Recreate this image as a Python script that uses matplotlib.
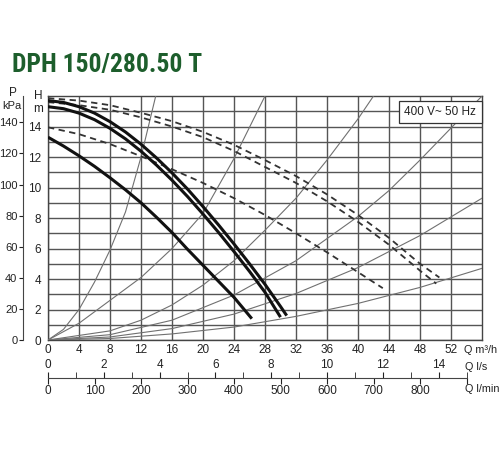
import matplotlib
matplotlib.use("Agg")
import matplotlib.pyplot as plt
from matplotlib import font_manager

plt.rcParams['font.family'] = ['Liberation Sans', 'DejaVu Sans']

title = "DPH 150/280.50 T"
supply = "400 V~ 50 Hz"

# axis ticks
q_ticks = [0, 4, 8, 12, 16, 20, 24, 28, 32, 36, 40, 44, 48, 52]
h_ticks = [0, 2, 4, 6, 8, 10, 12, 14]
p_ticks = [0, 20, 40, 60, 80, 100, 120, 140]
ls_ticks = [0, 2, 4, 6, 8, 10, 12, 14]
ls_minor = list(range(0, 16))
lmin_ticks = [0, 100, 200, 300, 400, 500, 600, 700, 800]

# pump curves, Q in m3/h, H in m
q_a = [0, 2, 4, 6, 8, 10, 12, 14, 16, 18, 20, 22, 24, 26, 28, 30, 30.8]
h_a = [15.7, 15.58, 15.3, 14.88, 14.32, 13.64, 12.84, 11.94, 10.96, 9.9, 8.75,
       7.55, 6.3, 5.0, 3.65, 2.2, 1.6]
q_b = [0, 2, 4, 6, 8, 10, 12, 14, 16, 18, 20, 22, 24, 26, 28, 30.0]
h_b = [15.3, 15.17, 14.88, 14.45, 13.88, 13.19, 12.38, 11.47, 10.48, 9.41, 8.26,
       7.06, 5.8, 4.5, 3.13, 1.5]
q_c = [0, 2, 4, 6, 8, 10, 12, 14, 16, 18, 20, 22, 24, 26.3]
h_c = [13.3, 12.72, 12.08, 11.39, 10.64, 9.85, 9.0, 8.05, 7.05, 5.95, 4.9, 3.85,
       2.8, 1.4]

q_d1 = [0, 4, 8, 12, 16, 20, 24, 28, 32, 36, 40, 44, 48, 50.5]
h_d1 = [15.86, 15.7, 15.4, 14.9, 14.35, 13.65, 12.8, 11.8, 10.75, 9.55, 8.2, 6.7, 5.0, 4.1]
q_d2 = [0, 4, 8, 12, 16, 20, 24, 28, 32, 36, 40, 44, 48, 50.1]
h_d2 = [15.6, 15.4, 15.1, 14.6, 14.0, 13.3, 12.4, 11.35, 10.3, 9.1, 7.75, 6.25, 4.55, 3.7]
q_d3 = [0, 4, 8, 12, 16, 20, 24, 28, 32, 36, 40, 43.2]
h_d3 = [13.95, 13.5, 12.85, 12.05, 11.2, 10.3, 9.3, 8.2, 7.0, 5.75, 4.45, 3.4]

# system curves
q_s1 = [0, 2, 4, 6, 8, 10, 12, 13.9]
h_s1 = [0, 0.7, 2.0, 3.8, 5.9, 8.4, 12.0, 16.0]
q_s2 = [0, 4, 8, 12, 16, 20, 24, 28]
h_s2 = [0, 1.1, 2.6, 4.1, 6.0, 8.3, 11.9, 16.0]
q_s3 = [0, 8, 12, 16, 20, 24, 28, 32, 36, 40, 42]
h_s3 = [0, 0.6, 1.3, 2.3, 3.6, 5.2, 7.2, 9.3, 11.8, 14.5, 16.0]
q_s4 = [0, 8, 16, 24, 32, 40, 44, 48, 52, 56]
h_s4 = [0, 0.35, 1.3, 2.95, 5.2, 8.1, 9.8, 11.8, 13.9, 16.0]
q_s5 = [0, 8, 16, 24, 32, 40, 48, 56]
h_s5 = [0, 0.2, 0.75, 1.7, 3.05, 4.75, 6.85, 9.3]
q_s6 = [0, 8, 16, 24, 32, 40, 48, 56]
h_s6 = [0, 0.1, 0.4, 0.85, 1.55, 2.4, 3.45, 4.7]

fs = 8.5
txt = '#222'
fig = plt.figure(figsize=(5, 4.5), dpi=100)

# main chart
ax = fig.add_axes([0.096, 0.2444, 0.868, 0.5422])
ax.set_xlim(0, 56)
ax.set_ylim(0, 16)
ax.set_xticks(q_ticks)
ax.set_yticks(h_ticks)
ax.set_yticks(range(1, 16), minor=True)
ax.tick_params(which='both', length=0, labelsize=fs, colors=txt)
ax.tick_params(axis='y', pad=5)
ax.tick_params(axis='x', pad=3)
ax.grid(True, which='both', color='#555', lw=1.0)
ax.set_axisbelow(True)
for s in ax.spines.values():
    s.set_color('#444')
    s.set_linewidth(1.0)

for q, h in [(q_s1, h_s1), (q_s2, h_s2), (q_s3, h_s3),
             (q_s4, h_s4), (q_s5, h_s5), (q_s6, h_s6)]:
    ax.plot(q, h, color='#707070', lw=0.8, zorder=3)

for q, h in [(q_d1, h_d1), (q_d2, h_d2), (q_d3, h_d3)]:
    ax.plot(q, h, color='#333', lw=1.3, dashes=(3.5, 2.5), zorder=4)

for q, h in [(q_a, h_a), (q_b, h_b), (q_c, h_c)]:
    ax.plot(q, h, color='#111', lw=2.2, solid_capstyle='butt', zorder=5)

ax.text(0.904, 0.934, supply, transform=ax.transAxes, ha='center', va='center',
        fontsize=fs, color=txt, zorder=6,
        bbox=dict(boxstyle='square,pad=0.45', fc='white', ec='#333', lw=0.9))

ytr = ax.get_yaxis_transform()
ax.text(-0.012, 16, "H", transform=ytr, ha='right', va='center', fontsize=fs, color=txt)
ax.text(-0.012, 15.15, "m", transform=ytr, ha='right', va='center', fontsize=fs, color=txt)

# pressure axis
axp = fig.add_axes([0.046, 0.2444, 0.001, 0.5422])
axp.set_ylim(0, 16 * 9.81)
axp.set_yticks(p_ticks)
axp.set_xticks([])
axp.patch.set_visible(False)
for k in ['top', 'right', 'bottom']:
    axp.spines[k].set_visible(False)
axp.spines['left'].set_color('#444')
axp.tick_params(axis='y', direction='out', length=3, pad=1, labelsize=8, colors=txt)
fig.text(0.026, 1 - 93 / 450, "P", ha='center', va='center', fontsize=fs, color=txt)
fig.text(0.024, 1 - 106 / 450, "kPa", ha='center', va='center', fontsize=8, color=txt)

# flow axes (l/s above, l/min below)
axq = fig.add_axes([0.096, 1 - 378 / 450, 0.868, 0.0001])
axq.set_xlim(0, 56 * 1000 / 60)
axq.set_yticks([])
axq.patch.set_visible(False)
for k in ['top', 'left', 'right']:
    axq.spines[k].set_visible(False)
axq.spines['bottom'].set_bounds(0, ls_minor[-1] * 60)
axq.spines['bottom'].set_color('#444')
axq.set_xticks(lmin_ticks + [ls_minor[-1] * 60],
               labels=[str(v) for v in lmin_ticks] + [""])
axq.tick_params(axis='x', direction='out', length=4, pad=1, labelsize=fs, colors=txt)

sec = axq.secondary_xaxis('top', functions=(lambda v: v / 60, lambda v: v * 60))
sec.set_xticks(ls_ticks)
sec.set_xticks(ls_minor, minor=True)
sec.tick_params(which='both', direction='out', length=4, pad=1, labelsize=fs, colors=txt)
for s in sec.spines.values():
    s.set_visible(False)

fig.text(464 / 500, 1 - 350 / 450, "Q m³/h", ha='left', va='center', fontsize=7.8, color=txt)
fig.text(465 / 500, 1 - 367 / 450, "Q l/s", ha='left', va='center', fontsize=7.8, color=txt)
fig.text(465 / 500, 1 - 389 / 450, "Q l/min", ha='left', va='center', fontsize=7.8, color=txt)

# title in a narrow bold face if one is installed
available = {f.name for f in font_manager.fontManager.ttflist}
narrow = [n for n in ['Liberation Sans Narrow', 'Roboto Condensed', 'Open Sans Condensed',
                      'Noto Sans Condensed', 'DejaVu Sans Condensed'] if n in available]
title_font = narrow[0] if narrow else 'Roboto'
t = fig.text(12 / 500, 1 - 65 / 450, title, ha='left', va='center', fontsize=22,
             fontweight='bold', color='#1d5e2c', family=[title_font, 'DejaVu Sans'])
fig.canvas.draw()
w = t.get_window_extent().width
if w > 190:
    t.set_fontsize(22 * 190 / w)

fig.savefig("out.png", dpi=100)
